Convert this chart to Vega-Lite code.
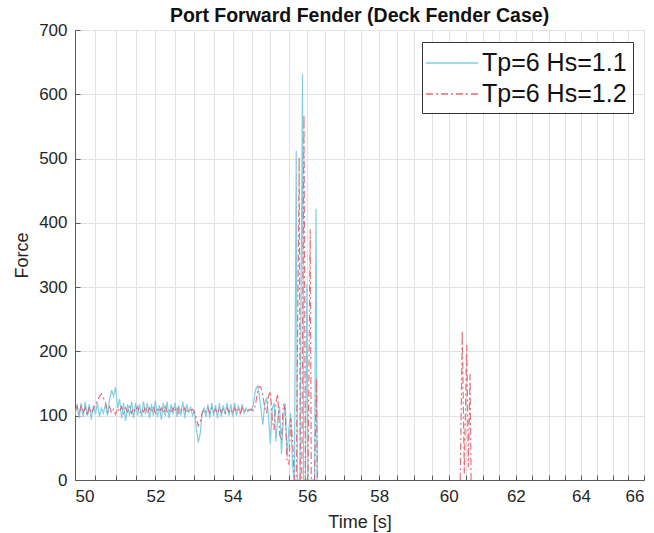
{
  "$schema": "https://vega.github.io/schema/vega-lite/v6.json",
  "autosize": {"type": "none"},
  "padding": {"left": 75, "top": 30, "right": 10, "bottom": 53},
  "width": 569,
  "height": 450,
  "background": "white",
  "title": {"text": "Port Forward Fender (Deck Fender Case)", "fontSize": 19.5, "fontWeight": "bold", "font": "Liberation Sans", "color": "#111111", "offset": 6, "frame": "group", "dy": 11},
  "datasets": {
    "blue": [
      {"t":50.00,"f":100},{"t":50.05,"f":118},{"t":50.10,"f":96},{"t":50.15,"f":120},{"t":50.20,"f":98},{"t":50.25,"f":122},{"t":50.30,"f":100},{"t":50.35,"f":118},{"t":50.40,"f":94},{"t":50.45,"f":116},
      {"t":50.50,"f":102},{"t":50.55,"f":120},{"t":50.60,"f":98},{"t":50.65,"f":112},{"t":50.70,"f":104},{"t":50.75,"f":118},{"t":50.80,"f":100},{"t":50.85,"f":124},{"t":50.90,"f":140},{"t":50.95,"f":130},
      {"t":51.00,"f":145},{"t":51.05,"f":112},{"t":51.10,"f":126},{"t":51.15,"f":96},{"t":51.20,"f":120},{"t":51.25,"f":92},{"t":51.30,"f":118},{"t":51.35,"f":100},{"t":51.40,"f":122},{"t":51.45,"f":96},
      {"t":51.50,"f":120},{"t":51.55,"f":100},{"t":51.60,"f":118},{"t":51.65,"f":98},{"t":51.70,"f":122},{"t":51.75,"f":102},{"t":51.80,"f":120},{"t":51.85,"f":96},{"t":51.90,"f":118},{"t":51.95,"f":100},
      {"t":52.00,"f":124},{"t":52.05,"f":98},{"t":52.10,"f":116},{"t":52.15,"f":94},{"t":52.20,"f":120},{"t":52.25,"f":100},{"t":52.30,"f":122},{"t":52.35,"f":96},{"t":52.40,"f":118},{"t":52.45,"f":102},
      {"t":52.50,"f":120},{"t":52.55,"f":98},{"t":52.60,"f":116},{"t":52.65,"f":100},{"t":52.70,"f":122},{"t":52.75,"f":96},{"t":52.80,"f":118},{"t":52.85,"f":104},{"t":52.90,"f":114},{"t":52.95,"f":100},
      {"t":53.00,"f":108},{"t":53.05,"f":80},{"t":53.10,"f":58},{"t":53.15,"f":72},{"t":53.20,"f":104},{"t":53.25,"f":112},{"t":53.30,"f":98},{"t":53.35,"f":118},{"t":53.40,"f":96},{"t":53.45,"f":120},
      {"t":53.50,"f":100},{"t":53.55,"f":116},{"t":53.60,"f":96},{"t":53.65,"f":120},{"t":53.70,"f":98},{"t":53.75,"f":116},{"t":53.80,"f":102},{"t":53.85,"f":120},{"t":53.90,"f":100},{"t":53.95,"f":118},
      {"t":54.00,"f":98},{"t":54.05,"f":120},{"t":54.10,"f":100},{"t":54.15,"f":116},{"t":54.20,"f":102},{"t":54.25,"f":118},{"t":54.30,"f":104},{"t":54.35,"f":112},{"t":54.40,"f":106},{"t":54.45,"f":110},
      {"t":54.50,"f":108},{"t":54.55,"f":118},{"t":54.60,"f":140},{"t":54.65,"f":146},{"t":54.70,"f":134},{"t":54.75,"f":110},{"t":54.80,"f":86},{"t":54.85,"f":118},{"t":54.90,"f":128},{"t":54.95,"f":100},
      {"t":55.00,"f":56},{"t":55.05,"f":110},{"t":55.10,"f":120},{"t":55.15,"f":60},{"t":55.20,"f":98},{"t":55.25,"f":114},{"t":55.30,"f":40},{"t":55.35,"f":94},{"t":55.40,"f":120},{"t":55.45,"f":36},
      {"t":55.50,"f":80},{"t":55.55,"f":104},{"t":55.60,"f":20},{"t":55.65,"f":0},{"t":55.70,"f":512},{"t":55.73,"f":0},{"t":55.80,"f":0},{"t":55.87,"f":632},{"t":55.90,"f":0},{"t":55.95,"f":0},
      {"t":55.99,"f":305},{"t":56.02,"f":0},{"t":56.10,"f":0},{"t":56.20,"f":0},{"t":56.24,"f":422},{"t":56.27,"f":0}
    ],
    "red": [
      {"t":50.00,"f":108,"s":1},{"t":50.05,"f":114,"s":1},{"t":50.10,"f":102,"s":1},{"t":50.15,"f":116,"s":1},{"t":50.20,"f":104,"s":1},{"t":50.25,"f":112,"s":1},{"t":50.30,"f":100,"s":1},{"t":50.35,"f":114,"s":1},{"t":50.40,"f":104,"s":1},{"t":50.45,"f":110,"s":1},
      {"t":50.50,"f":118,"s":1},{"t":50.55,"f":122,"s":1},{"t":50.60,"f":130,"s":1},{"t":50.65,"f":134,"s":1},{"t":50.70,"f":128,"s":1},{"t":50.75,"f":120,"s":1},{"t":50.80,"f":106,"s":1},{"t":50.85,"f":114,"s":1},{"t":50.90,"f":104,"s":1},{"t":50.95,"f":110,"s":1},
      {"t":51.00,"f":102,"s":1},{"t":51.05,"f":112,"s":1},{"t":51.10,"f":106,"s":1},{"t":51.15,"f":114,"s":1},{"t":51.20,"f":104,"s":1},{"t":51.25,"f":112,"s":1},{"t":51.30,"f":106,"s":1},{"t":51.35,"f":114,"s":1},{"t":51.40,"f":104,"s":1},{"t":51.45,"f":112,"s":1},
      {"t":51.50,"f":106,"s":1},{"t":51.55,"f":114,"s":1},{"t":51.60,"f":104,"s":1},{"t":51.65,"f":110,"s":1},{"t":51.70,"f":106,"s":1},{"t":51.75,"f":114,"s":1},{"t":51.80,"f":104,"s":1},{"t":51.85,"f":112,"s":1},{"t":51.90,"f":106,"s":1},{"t":51.95,"f":114,"s":1},
      {"t":52.00,"f":104,"s":1},{"t":52.05,"f":110,"s":1},{"t":52.10,"f":106,"s":1},{"t":52.15,"f":112,"s":1},{"t":52.20,"f":104,"s":1},{"t":52.25,"f":114,"s":1},{"t":52.30,"f":106,"s":1},{"t":52.35,"f":110,"s":1},{"t":52.40,"f":104,"s":1},{"t":52.45,"f":112,"s":1},
      {"t":52.50,"f":106,"s":1},{"t":52.55,"f":114,"s":1},{"t":52.60,"f":104,"s":1},{"t":52.65,"f":110,"s":1},{"t":52.70,"f":106,"s":1},{"t":52.75,"f":112,"s":1},{"t":52.80,"f":104,"s":1},{"t":52.85,"f":110,"s":1},{"t":52.90,"f":108,"s":1},{"t":52.95,"f":110,"s":1},
      {"t":53.00,"f":106,"s":1},{"t":53.05,"f":96,"s":1},{"t":53.10,"f":84,"s":1},{"t":53.15,"f":90,"s":1},{"t":53.20,"f":104,"s":1},{"t":53.25,"f":110,"s":1},{"t":53.30,"f":106,"s":1},{"t":53.35,"f":112,"s":1},{"t":53.40,"f":104,"s":1},{"t":53.45,"f":112,"s":1},
      {"t":53.50,"f":106,"s":1},{"t":53.55,"f":110,"s":1},{"t":53.60,"f":104,"s":1},{"t":53.65,"f":112,"s":1},{"t":53.70,"f":106,"s":1},{"t":53.75,"f":110,"s":1},{"t":53.80,"f":104,"s":1},{"t":53.85,"f":112,"s":1},{"t":53.90,"f":106,"s":1},{"t":53.95,"f":110,"s":1},
      {"t":54.00,"f":104,"s":1},{"t":54.05,"f":112,"s":1},{"t":54.10,"f":106,"s":1},{"t":54.15,"f":110,"s":1},{"t":54.20,"f":104,"s":1},{"t":54.25,"f":112,"s":1},{"t":54.30,"f":106,"s":1},{"t":54.35,"f":110,"s":1},{"t":54.40,"f":108,"s":1},{"t":54.45,"f":110,"s":1},
      {"t":54.50,"f":110,"s":1},{"t":54.55,"f":108,"s":1},{"t":54.60,"f":116,"s":1},{"t":54.65,"f":134,"s":1},{"t":54.70,"f":146,"s":1},{"t":54.75,"f":144,"s":1},{"t":54.80,"f":132,"s":1},{"t":54.85,"f":112,"s":1},{"t":54.90,"f":104,"s":1},{"t":54.95,"f":130,"s":1},
      {"t":55.00,"f":138,"s":1},{"t":55.05,"f":96,"s":1},{"t":55.10,"f":78,"s":1},{"t":55.15,"f":120,"s":1},{"t":55.20,"f":134,"s":1},{"t":55.25,"f":70,"s":1},{"t":55.30,"f":62,"s":1},{"t":55.35,"f":118,"s":1},{"t":55.40,"f":110,"s":1},{"t":55.45,"f":30,"s":1},
      {"t":55.50,"f":24,"s":1},{"t":55.55,"f":96,"s":1},{"t":55.60,"f":60,"s":1},{"t":55.65,"f":0,"s":1},{"t":55.70,"f":0,"s":1},{"t":55.78,"f":502,"s":1},{"t":55.81,"f":0,"s":1},{"t":55.85,"f":0,"s":1},{"t":55.91,"f":568,"s":1},{"t":55.95,"f":0,"s":1},
      {"t":56.02,"f":0,"s":1},{"t":56.08,"f":390,"s":1},{"t":56.11,"f":0,"s":1},{"t":56.20,"f":0,"s":1},{"t":56.25,"f":158,"s":1},{"t":56.28,"f":0,"s":1},
      {"t":60.34,"f":0,"s":2},{"t":60.40,"f":232,"s":2},{"t":60.46,"f":10,"s":2},{"t":60.53,"f":210,"s":2},{"t":60.58,"f":20,"s":2},{"t":60.63,"f":165,"s":2},{"t":60.66,"f":0,"s":2}
    ]
  },
  "layer": [
    {
      "data": {"name": "blue"},
      "transform": [{"calculate": "'Tp=6 Hs=1.1'", "as": "series"}],
      "mark": {"type": "line", "strokeWidth": 1.2, "clip": true, "opacity": 0.9},
      "encoding": {
        "x": {"field": "t", "type": "quantitative"},
        "y": {"field": "f", "type": "quantitative"},
        "color": {"field": "series", "type": "nominal"},
        "strokeDash": {"field": "series", "type": "nominal"}
      }
    },
    {
      "data": {"name": "red"},
      "transform": [{"calculate": "'Tp=6 Hs=1.2'", "as": "series"}],
      "mark": {"type": "line", "strokeWidth": 1.2, "clip": true, "opacity": 0.85},
      "encoding": {
        "x": {"field": "t", "type": "quantitative"},
        "y": {"field": "f", "type": "quantitative"},
        "detail": {"field": "s", "type": "nominal"},
        "color": {"field": "series", "type": "nominal"},
        "strokeDash": {"field": "series", "type": "nominal"}
      }
    }
  ],
  "resolve": {"scale": {"color": "shared", "strokeDash": "shared"}},
  "encoding": {
    "x": {
      "field": "t", "type": "quantitative",
      "scale": {"type": "log", "domain": [50, 66], "nice": false, "zero": false},
      "axis": {
        "title": "Time [s]",
        "values": [50,50.5,51,51.5,52,52.5,53,53.5,54,54.5,55,55.5,56,56.5,57,57.5,58,58.5,59,59.5,60,60.5,61,61.5,62,62.5,63,63.5,64,64.5,65,65.5,66],
        "labelExpr": "datum.value % 2 === 0 ? format(datum.value, 'd') : ''",
        "labelFontSize": 17,
        "titleFontSize": 18,
        "labelPadding": 13,
        "titlePadding": 9
      }
    },
    "y": {
      "field": "f", "type": "quantitative",
      "scale": {"domain": [0, 700], "nice": false},
      "axis": {
        "title": "Force",
        "values": [0,100,200,300,400,500,600,700],
        "labelFontSize": 17,
        "titleFontSize": 18,
        "labelPadding": 13,
        "titlePadding": 7
      }
    },
    "color": {
      "field": "series", "type": "nominal",
      "scale": {"domain": ["Tp=6 Hs=1.1", "Tp=6 Hs=1.2"], "range": ["#74c9e2", "#e65764"]},
      "legend": {
        "title": null,
        "orient": "none",
        "legendX": 347,
        "legendY": 12,
        "symbolType": "M-1.84,0L1.84,0",
        "symbolSize": 800,
        "symbolStrokeWidth": 1.5,
        "symbolOffset": 9,
        "labelFontSize": 25,
        "labelFont": "Liberation Sans",
        "labelColor": "#111111",
        "rowPadding": 3,
        "padding": 6,
        "strokeColor": "#333333",
        "fillColor": "white",
        "labelOffset": 15
      }
    },
    "strokeDash": {
      "field": "series", "type": "nominal",
      "scale": {"domain": ["Tp=6 Hs=1.1", "Tp=6 Hs=1.2"], "range": [[1, 0], [7, 3, 2, 3]]},
      "legend": {
        "title": null,
        "orient": "none",
        "legendX": 347,
        "legendY": 12,
        "symbolType": "M-1.84,0L1.84,0",
        "symbolSize": 800,
        "symbolStrokeWidth": 1.5,
        "symbolOffset": 9,
        "labelFontSize": 25,
        "labelFont": "Liberation Sans",
        "labelColor": "#111111",
        "rowPadding": 3,
        "padding": 6,
        "strokeColor": "#333333",
        "fillColor": "white",
        "labelOffset": 15
      }
    }
  },
  "config": {
    "font": "Liberation Sans",
    "view": {"stroke": "#5a5a5a", "strokeWidth": 1},
    "axis": {
      "grid": true,
      "gridColor": "#e2e2e2",
      "gridWidth": 1,
      "domainColor": "#5a5a5a",
      "tickColor": "#5a5a5a",
      "tickSize": -5,
      "labelColor": "#262626",
      "titleColor": "#262626",
      "titleFontWeight": "normal",
      "labelFont": "Liberation Sans",
      "titleFont": "Liberation Sans"
    }
  }
}
